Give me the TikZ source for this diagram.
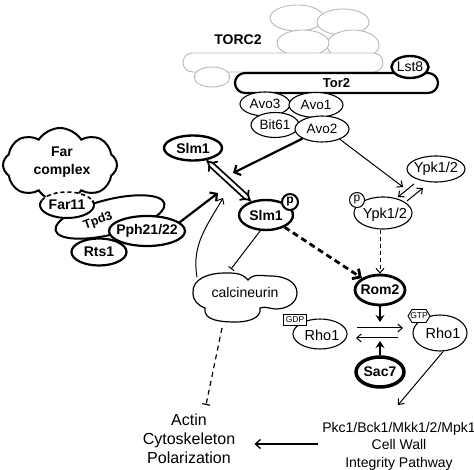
\documentclass[tikz,border=0pt]{standalone}
\usepackage{fontspec}
\setmainfont{Liberation Sans}
\usetikzlibrary{shapes.geometric,shapes.symbols,arrows.meta,calc}
\begin{document}
\begin{tikzpicture}[x=1pt,y=-1pt,
  el/.style={ellipse,draw,fill=white,inner sep=0pt,line width=1.1pt},
  bel/.style={el,line width=2.4pt},
  gr/.style={ellipse,draw=gray!55,fill=white,inner sep=0pt,line width=0.9pt},
  tx/.style={font=\fontsize{14}{16}\selectfont,inner sep=0pt},
  btx/.style={font=\bfseries\fontsize{14}{16}\selectfont,inner sep=0pt},
  tarr/.style={line width=1pt,-{Straight Barb[length=4.5pt,width=8pt]}},
  Tarr/.style={line width=2.2pt,-{Straight Barb[length=5pt,width=11pt]}},
  sarr/.style={line width=2.6pt,-{Stealth[length=7pt,width=9pt]}},
  teeend/.style={line width=1pt,-{Bar[width=7pt]}}
]
\useasboundingbox (0,0) rectangle (474,470);
\clip (0,0) rectangle (474,470);

% ---------- TORC2 gray complex ----------
\node[gr,minimum width=54pt,minimum height=26pt] (g2) at (297,18) {};
\node[gr,minimum width=52pt,minimum height=26pt] (g1) at (343,22) {};
\node[gr,minimum width=52pt,minimum height=30pt] (g3) at (353,45) {};
\node[gr,minimum width=52pt,minimum height=26pt] (g4) at (303,43) {};
\node[draw=gray!55,fill=white,line width=0.9pt,rounded corners=9.5pt,minimum width=200pt,minimum height=19pt,inner sep=0pt] (gbar) at (283,62.5) {};
\node[gr,minimum width=36pt,minimum height=20pt] (g5) at (212,77) {};
\node[font=\bfseries\fontsize{14}{16}\selectfont,inner sep=0pt] (torc2) at (238,40) {TORC2};

\node[draw,fill=white,line width=2.2pt,rounded corners=10pt,minimum width=203pt,minimum height=20pt,inner sep=0pt] (tor2) at (336.5,83) {};
\node[font=\bfseries\fontsize{13}{15}\selectfont,inner sep=0pt] (tor2t) at (tor2) {Tor2};
\node[bel,minimum width=37pt,minimum height=22pt] (lst8) at (410,67) {};
\node[tx] (lst8t) at (lst8) {Lst8};

\node[el,minimum width=50pt,minimum height=24pt] (avo3) at (265,104) {};
\node[tx,font=\fontsize{13.5}{15}\selectfont] (avo3t) at (avo3) {Avo3};
\node[el,minimum width=54pt,minimum height=25pt] (avo1) at (316,105) {};
\node[tx,font=\fontsize{13.5}{15}\selectfont] (avo1t) at (avo1) {Avo1};
\node[el,minimum width=48pt,minimum height=25pt] (bit61) at (275,125) {};
\node[tx,font=\fontsize{13.5}{15}\selectfont] (bit61t) at (bit61) {Bit61};
\node[el,minimum width=54pt,minimum height=26pt] (avo2) at (322,129) {};
\node[tx,font=\fontsize{13.5}{15}\selectfont] (avo2t) at (avo2) {Avo2};

% ---------- left cluster ----------
\node[cloud,draw,fill=white,line width=2pt,cloud puffs=8,cloud puff arc=115,aspect=1.5,minimum width=114pt,minimum height=74pt,inner sep=0pt] (far) at (60,165) {};
\node[btx,align=center,font=\bfseries\fontsize{14}{18}\selectfont] (fart) at (62,162) {Far\\complex};
\node[ellipse,draw,fill=white,line width=2pt,inner sep=0pt,minimum width=112pt,minimum height=35pt,rotate=14] (tpd3) at (110,217) {};
\node[btx,font=\bfseries\fontsize{12.5}{14}\selectfont,rotate=20] (tpd3t) at (98,221) {Tpd3};
\node[ellipse,fill=white,inner sep=0pt,minimum width=54pt,minimum height=26pt] (far11) at (67,205) {};
\draw[line width=2pt] (far11.center) ++(200:27 and 13) arc[start angle=200,end angle=-20,x radius=27,y radius=13];
\draw[line width=1.6pt,dash pattern=on 4pt off 3pt] (far11.center) ++(200:27 and 13) arc[start angle=200,end angle=340,x radius=27,y radius=13];
\node[btx] (far11t) at (far11) {Far11};
\node[ellipse,draw,fill=white,line width=2.2pt,inner sep=0pt,minimum width=55pt,minimum height=27pt] (rts1) at (99,252) {};
\node[btx] (rts1t) at (rts1) {Rts1};
\node[ellipse,draw,fill=white,line width=2.2pt,inner sep=0pt,minimum width=76pt,minimum height=30pt] (pph) at (147,231) {};
\node[btx] (ppht) at (pph) {Pph21/22};

% ---------- Slm1 ----------
\node[bel,minimum width=58pt,minimum height=25pt] (slm1) at (193,148) {};
\node[btx] (slm1t) at (slm1) {Slm1};
\node[bel,minimum width=54pt,minimum height=30pt] (slm1p) at (266,215) {};
\node[btx] (slm1pt) at (slm1p) {Slm1};
\node[circle,draw,fill=white,line width=2pt,inner sep=0pt,minimum size=16pt,font=\bfseries\fontsize{12}{12}\selectfont] (pslm) at (290,202) {p};

% ---------- Ypk ----------
\node[el,minimum width=58pt,minimum height=26pt] (ypk) at (436,169) {};
\node[tx,font=\fontsize{14.5}{16}\selectfont] (ypkt) at (ypk) {Ypk1/2};
\node[el,minimum width=58pt,minimum height=32pt] (ypkp) at (383,213) {};
\node[tx,font=\fontsize{14.5}{16}\selectfont] (ypkpt) at ($(ypkp)+(2,2)$) {Ypk1/2};
\node[circle,draw,fill=white,line width=1pt,inner sep=0pt,minimum size=15pt,font=\fontsize{12}{12}\selectfont] (pypk) at (357,200) {p};

% ---------- calcineurin ----------
\draw[line width=1.2pt,fill=white] (193,293) to[out=95,in=180] (224,273) to[out=0,in=130] (248,280)
  to[out=50,in=180] (271,276) to[out=0,in=90] (297,293) to[out=-90,in=0] (276,309)
  to[out=180,in=20] (260,308) to[out=-80,in=0] (236,322) to[out=180,in=-100] (205,308)
  to[out=160,in=-90] cycle;
\node[tx] (calc) at (245,292) {calcineurin};

% ---------- Rom2 / Rho1 / Sac7 ----------
\node[el,line width=2.8pt,minimum width=50pt,minimum height=30pt] (rom2) at (380,290) {};
\node[btx] (rom2t) at (rom2) {Rom2};
\node[el,line width=3.5pt,minimum width=48pt,minimum height=30pt] (sac7) at (380,372) {};
\node[btx] (sac7t) at (sac7) {Sac7};
\node[el,minimum width=54pt,minimum height=30pt] (rhogdp) at (320,334) {};
\node[tx,font=\fontsize{14.5}{16}\selectfont] (rhogdpt) at ($(rhogdp)+(2,1)$) {Rho1};
\node[draw,fill=white,line width=0.9pt,inner sep=0pt,minimum width=23pt,minimum height=11pt,font=\fontsize{8.5}{9}\selectfont] (gdp) at (295,320) {GDP};
\node[el,minimum width=54pt,minimum height=36pt] (rhogtp) at (440,333) {};
\node[tx,font=\fontsize{14.5}{16}\selectfont] (rhogtpt) at ($(rhogtp)+(3,0)$) {Rho1};
\draw[line width=0.9pt,fill=white] (408,316) -- (412,309.5) -- (426,309.5) -- (430,316) -- (426,322.5) -- (412,322.5) -- cycle;
\node[font=\fontsize{8.5}{9}\selectfont,inner sep=0pt] (gtp) at (419,316) {GTP};

% ---------- output texts ----------
\node[font=\fontsize{16}{19}\selectfont,align=center,inner sep=0pt] (actin) at (189,439) {Actin\\Cytoskeleton\\Polarization};
\node[font=\fontsize{14}{17.5}\selectfont,align=center,inner sep=0pt] (cwi) at (399,446) {Pkc1/Bck1/Mkk1/2/Mpk1\\Cell Wall\\Integrity Pathway};

% ---------- coordinates ----------
\coordinate (c1) at (233,173);
\coordinate (c2) at (218,193);
\coordinate (c3) at (403,187);
\coordinate (ya1) at (414,184);
\coordinate (ya2) at (398,197);
\coordinate (yb1) at (407,201);
\coordinate (yb2) at (423,188);
\coordinate (calctop) at (231,269);
\coordinate (calcleft) at (197,277);
\coordinate (c4) at (223,198);
\coordinate (calcbot) at (222,328);
\coordinate (actintop) at (206,405);
\coordinate (eqtop) at (380,322);
\coordinate (eqbot) at (380,341);
\coordinate (e1) at (357,328);
\coordinate (e2) at (403,328);
\coordinate (e3) at (398,338);
\coordinate (e4) at (356,338);
\coordinate (cwitop) at (398,405);

% ---------- connectors ----------
\draw[Tarr] (avo2.south west) -- (c1);
\draw[Tarr] (pph.15) -- (c2);
\draw[line width=1.8pt,double,double distance=3pt,{Implies}-{Implies}] (slm1) -- (slm1p);
\draw[tarr] (avo2.-30) -- (c3);
\draw[tarr] (ya1) -- (ya2);
\draw[tarr] (yb1) -- (yb2);
\draw[teeend] (slm1p.-110) -- (calctop);
\draw[tarr] (calcleft) to[out=100,in=240] (c4);
\draw[line width=2.8pt,dash pattern=on 6pt off 4pt,-{Straight Barb[length=6pt,width=12pt]}] (slm1p) -- (rom2);
\draw[line width=1pt,dash pattern=on 4pt off 3pt,-{Straight Barb[length=4.5pt,width=8pt]}] (rom2.north |- ypkp.south) -- (rom2.north);
\draw[sarr] (rom2.south) -- (eqtop);
\draw[sarr] (sac7.north) -- (eqbot);
\draw[tarr] (e1) -- (e2);
\draw[tarr] (e3) -- (e4);
\draw[tarr] (rhogtp.-80) -- (cwitop);
\draw[line width=1.3pt,-{Straight Barb[length=5pt,width=9pt]}] ($(cwi.west)+(-4,-2)$) -- ($(actin.east)+(19,5)$);
\draw[line width=1.2pt,dash pattern=on 5pt off 4pt,-{Bar[width=8pt]}] (calcbot) -- (actintop);
\end{tikzpicture}
\end{document}
